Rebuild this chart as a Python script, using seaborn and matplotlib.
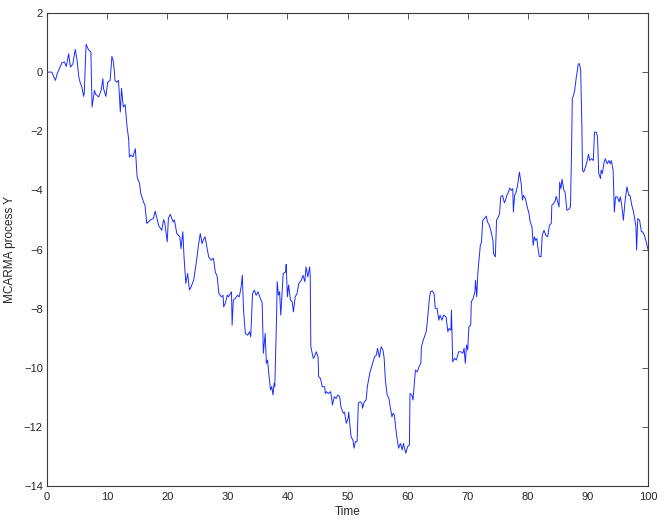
import numpy as np
import pandas as pd
import seaborn as sns
import matplotlib
matplotlib.use("Agg")
import matplotlib.pyplot as plt

# values, left to right
time_a = [0, 0.8, 1.4, 1.7, 2.5, 2.9, 3.2, 3.6, 3.9, 4.3, 4.7, 5.0, 5.3, 5.5, 5.8, 6.1, 6.2, 6.5, 6.9, 7.3,
          7.5, 7.9, 8.1, 8.6, 9.0, 9.3, 9.4, 9.8, 10.1, 10.5, 10.8, 11.0, 11.2, 11.3, 11.6, 11.9, 12.2, 12.4,
          12.7, 13.0, 13.3, 13.6, 13.7, 14.0, 14.3, 14.7, 15.0, 15.4, 15.6, 16.1, 16.3, 16.6, 17.2, 17.7,
          18.0, 18.6]
y_a = [0, 0, -0.28, -0.05, 0.32, 0.34, 0.19, 0.62, 0.17, 0.28, 0.77, 0.4, -0.17, -0.34, -0.5, -0.82, -0.7,
       0.94, 0.76, 0.68, -1.18, -0.62, -0.75, -0.84, -0.62, -0.22, -0.55, -0.82, -0.34, -0.28, 0.53, 0.4,
       0.06, -0.28, -0.34, -0.28, -1.35, -0.55, -1.18, -1.1, -1.8, -2.3, -2.87, -2.8, -2.87, -2.59, -3.55,
       -3.77, -4.1, -4.42, -4.5, -5.12, -5.0, -4.95, -4.7, -5.2]

time_b = [19.1, 19.4, 19.6, 20.0, 20.2, 20.5, 21.0, 21.2, 21.6, 22.1, 22.3, 22.6, 22.8, 23.1, 23.4, 23.7,
          23.9, 24.4, 24.7, 25.0, 25.2, 25.5, 25.8, 26.1, 26.3, 26.6, 26.9, 27.3, 27.7, 28.0, 28.3, 28.6,
          29.0, 29.3, 29.4, 29.7, 30.0, 30.2, 30.5, 30.7, 30.8, 31.0, 31.3, 31.7, 32.0, 32.3, 32.5, 32.7,
          33.0, 33.4, 33.7, 33.9, 34.2, 34.5, 34.8, 35.1, 35.4, 35.8]
y_b = [-5.35, -4.99, -5.1, -5.74, -4.95, -4.81, -5.07, -5.0, -5.46, -5.57, -5.97, -5.4, -6.25, -7.15, -6.81,
       -7.37, -7.3, -7.04, -6.64, -6.19, -5.86, -5.46, -5.8, -5.63, -5.57, -5.91, -6.25, -6.36, -6.3, -6.76,
       -6.9, -7.49, -7.6, -7.55, -7.94, -7.8, -7.54, -7.6, -7.5, -7.43, -8.56, -7.71, -7.66, -7.55, -7.6,
       -7.26, -6.87, -8.05, -8.84, -8.9, -8.78, -8.95, -7.49, -7.37, -7.55, -7.43, -7.6, -7.8]

time_c = [36.0, 36.3, 36.5, 36.7, 36.9, 37.2, 37.4, 37.6, 37.8, 37.9, 38.2, 38.3, 38.5, 38.7, 38.9, 39.1,
          39.3, 39.7, 39.8, 40.0, 40.2, 40.5, 40.8, 41.0, 41.3, 41.6, 41.9, 42.3, 42.6, 42.9, 43.1, 43.4,
          43.7, 43.8, 43.9, 44.3, 44.5, 44.8, 45.1, 45.2, 45.5, 45.8, 46.2, 46.3, 46.5, 46.8, 47.2, 47.5,
          47.8, 48.1, 48.4, 48.7, 48.9, 49.3, 49.5, 49.8, 50.1, 50.2, 50.4, 50.6, 50.9, 51.1, 51.3, 51.6,
          51.8, 52.1, 52.4, 52.5, 52.8, 53.1, 53.3, 53.7, 54.0]
y_c = [-9.51, -8.84, -9.85, -9.74, -10.19, -10.75, -10.64, -10.92, -10.53, -10.64, -8.28, -7.09, -7.54,
       -7.43, -8.22, -7.49, -6.81, -6.76, -6.5, -7.6, -7.2, -7.71, -7.77, -8.11, -7.6, -7.49, -7.15, -7.04,
       -6.87, -7.09, -6.59, -6.93, -6.59, -6.9, -9.29, -9.68, -9.63, -9.46, -9.63, -10.3, -10.36, -10.64,
       -10.64, -10.87, -10.81, -10.87, -10.81, -11.26, -10.98, -11.04, -10.92, -10.98, -11.32, -11.54,
       -11.5, -11.88, -11.71, -11.5, -11.94, -12.33, -12.45, -12.72, -12.5, -12.5, -11.2, -11.15, -11.2,
       -11.37, -11.15, -11.09, -10.64, -10.19, -9.97]

time_d = [54.5, 54.8, 55.0, 55.3, 55.6, 55.9, 56.1, 56.3, 56.6, 56.9, 57.1, 57.4, 57.6, 57.8, 58.0, 58.2,
          58.5, 58.8, 59.1, 59.3, 59.5, 59.7, 60.0, 60.3, 60.4, 60.7, 60.9, 61.1, 61.3, 61.6, 61.9, 62.2,
          62.3, 62.6, 62.9, 63.1, 63.3, 63.6, 63.8, 64.1, 64.4, 64.6, 64.9, 65.2, 65.4, 65.7, 66.0, 66.4,
          66.7, 66.9, 67.2, 67.3, 67.5, 67.8, 68.1, 68.5, 68.9, 69.2, 69.4, 69.6, 69.8, 70.0, 70.2, 70.5,
          70.6, 70.9, 71.2, 71.3, 71.5, 71.7]
y_d = [-9.63, -9.57, -9.34, -9.65, -9.29, -9.4, -9.68, -10.42, -10.92, -11.04, -11.32, -11.66, -11.54,
       -11.6, -11.99, -12.33, -12.72, -12.56, -12.78, -12.56, -12.72, -12.89, -12.67, -12.61, -10.87,
       -10.92, -11.09, -10.58, -10.08, -10.14, -9.97, -9.85, -9.29, -9.07, -8.9, -8.78, -8.39, -7.71,
       -7.43, -7.4, -7.49, -7.99, -7.99, -8.39, -8.22, -8.39, -8.22, -8.28, -8.78, -8.67, -8.73, -8.05,
       -9.8, -9.68, -9.74, -9.46, -9.46, -9.51, -9.34, -9.85, -9.23, -9.4, -8.61, -8.56, -7.77, -7.66,
       -7.43, -7.04, -7.6, -6.76]

time_e = [72.1, 72.3, 72.5, 72.8, 73.1, 73.3, 73.6, 73.9, 74.2, 74.3, 74.6, 74.8, 75.1, 75.3, 75.5, 75.8,
          76.1, 76.3, 76.5, 76.8, 77.0, 77.3, 77.5, 77.6, 77.8, 78.0, 78.3, 78.6, 78.9, 79.1, 79.3, 79.6,
          79.9, 80.2, 80.4, 80.7, 80.9, 81.1, 81.3, 81.5, 81.7, 81.9, 82.2, 82.4, 82.7, 83.0, 83.3, 83.6,
          83.9, 84.0, 84.3, 84.6, 84.7, 85.0, 85.2, 85.3, 85.5, 85.7, 86.0, 86.2, 86.5, 86.8, 87.1]
y_e = [-5.86, -5.75, -5.01, -4.95, -4.87, -5.07, -5.18, -5.4, -5.69, -6.14, -6.25, -5.01, -4.9, -4.78,
       -4.22, -4.17, -4.42, -4.33, -4.17, -4.05, -3.92, -4.0, -3.94, -4.73, -4.17, -4.1, -3.83, -3.38,
       -3.77, -4.33, -4.17, -4.28, -4.56, -4.78, -5.07, -5.24, -5.86, -5.57, -5.69, -5.63, -5.97, -6.23,
       -6.25, -5.52, -5.35, -5.52, -5.57, -5.18, -5.12, -4.5, -4.45, -4.33, -4.2, -4.4, -4.56, -3.72,
       -3.95, -3.62, -4.0, -4.05, -4.67, -4.64, -4.56]

time_f = [87.3, 87.4, 87.6, 87.8, 88.0, 88.2, 88.4, 88.6, 88.8, 89.0, 89.1, 89.3, 89.6, 89.9, 90.1, 90.3,
          90.6, 90.9, 91.1, 91.4, 91.6, 91.8, 92.1, 92.2, 92.4, 92.7, 92.9, 93.2, 93.5, 93.7, 93.9, 94.2,
          94.4, 94.6, 94.9, 95.2, 95.4, 95.6, 95.9, 96.2, 96.5, 96.8, 97.0, 97.3, 97.6, 98.0, 98.1, 98.3,
          98.6, 98.9, 99.1, 99.4, 99.7, 100.0]
y_f = [-2.42, -0.9, -0.79, -0.62, -0.28, 0.0, 0.28, 0.28, 0.06, -1.86, -3.32, -3.38, -3.21, -2.99, -2.78,
       -2.99, -2.93, -2.99, -2.03, -2.03, -2.2, -3.43, -3.6, -3.32, -3.43, -3.04, -2.93, -3.1, -2.99, -3.1,
       -2.99, -3.32, -4.73, -4.22, -4.22, -4.39, -4.22, -4.45, -5.01, -4.33, -3.88, -4.17, -4.17, -4.5,
       -4.73, -5.24, -6.02, -4.95, -5.01, -5.4, -5.4, -5.52, -5.74, -6.0]

x_ticks = list(range(0, 101, 10))
y_ticks = list(range(-14, 3, 2))

df = pd.DataFrame({
    "Time": time_a + time_b + time_c + time_d + time_e + time_f,
    "Y": y_a + y_b + y_c + y_d + y_e + y_f,
})

sns.set_style("white")
plt.rcParams["font.family"] = ["Liberation Sans", "DejaVu Sans"]
plt.rcParams["font.size"] = 8

fig = plt.figure(figsize=(6.64, 5.23), dpi=100)
ax = fig.add_axes([47 / 664, 1 - 486 / 523, 601 / 664, 473 / 523])

sns.lineplot(data=df, x="Time", y="Y", ax=ax, color="#1a2cff", linewidth=0.7,
             estimator=None, sort=False)

ax.set_xlim(0, 100)
ax.set_ylim(-14, 2)
ax.set_xticks(x_ticks)
ax.set_yticks(y_ticks)
ax.set_xlabel("Time", fontsize=8.5, labelpad=3)
ax.set_ylabel("MCARMA process Y", fontsize=8.5, labelpad=6)

for side in ax.spines.values():
    side.set_color("#3a3a3a")
    side.set_linewidth(0.8)
ax.tick_params(direction="in", length=4.5, width=0.6, color="#3a3a3a",
               top=True, right=True, labelsize=8)
ax.tick_params(axis="x", pad=4)
ax.tick_params(axis="y", pad=3)

fig.savefig("out.png", dpi=100)
